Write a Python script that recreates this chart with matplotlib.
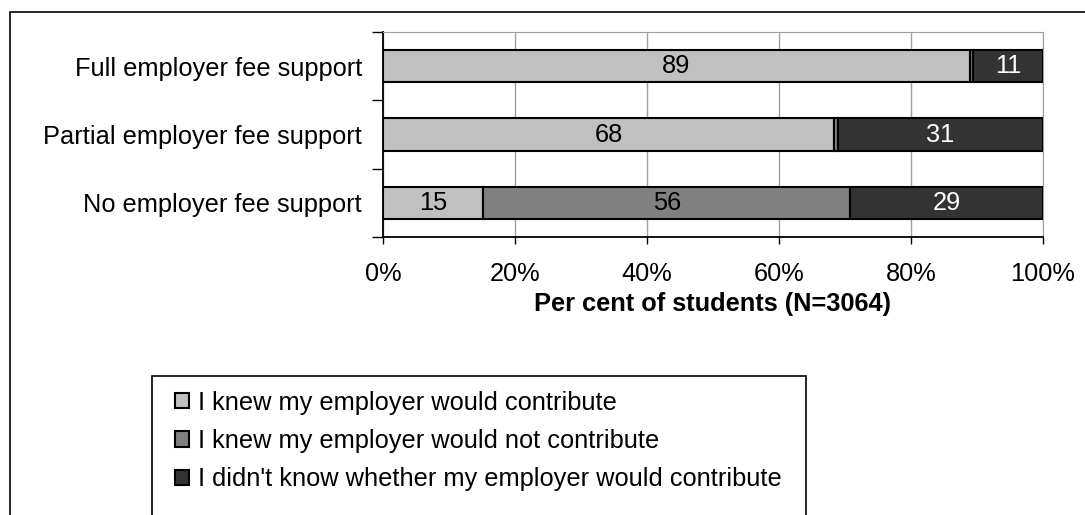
import matplotlib.pyplot as plt
from matplotlib.patches import Patch, Rectangle

plt.rcParams['font.family'] = ['Liberation Sans', 'DejaVu Sans']

categories = ['Full employer fee support', 'Partial employer fee support', 'No employer fee support']
knew_yes = [88.9, 68.4, 15.2]
knew_no = [0.5, 0.5, 55.6]
dont_know = [10.6, 31.1, 29.2]
series_names = ['I knew my employer would contribute',
                'I knew my employer would not contribute',
                "I didn't know whether my employer would contribute"]
colors = ['#C0C0C0', '#808080', '#333333']
text_colors = ['black', 'black', 'white']
xticks = [0, 20, 40, 60, 80, 100]

W, H = 1085, 515
fig = plt.figure(figsize=(W / 100, H / 100), dpi=100)
ax = fig.add_axes([383 / W, 1 - 237 / H, 660 / W, 205 / H])

fs = 18.3
ypos = list(range(len(categories)))
left = [0.0] * len(categories)
for vals, c, tc in zip([knew_yes, knew_no, dont_know], colors, text_colors):
    ax.barh(ypos, vals, left=left, height=0.47, color=c, edgecolor='black',
            linewidth=1.5, zorder=3)
    for y, v, l in zip(ypos, vals, left):
        if v >= 1:
            ax.text(l + v / 2, y, f'{v:.0f}', ha='center', va='center',
                    color=tc, fontsize=fs, zorder=4)
    left = [l + v for l, v in zip(left, vals)]

ax.set_xlim(0, 100)
ax.set_ylim(len(categories) - 0.5, -0.5)
ax.set_xticks(xticks)
ax.set_xticklabels([f'{t}%' for t in xticks], fontsize=fs)
ax.set_yticks(ypos)
ax.set_yticklabels(categories, fontsize=fs)
ax.tick_params(axis='y', length=0, pad=15)
ax.set_yticks([-0.5, 0.5, 1.5, 2.5], minor=True)
ax.tick_params(axis='y', which='minor', length=8, width=1, direction='out')
ax.tick_params(axis='x', length=5, width=1, direction='out', pad=13)
ax.xaxis.grid(True, color='#A0A0A0', linewidth=1, zorder=0)
ax.set_axisbelow(True)
for s in ['top', 'right']:
    ax.spines[s].set_color('#A0A0A0')
for s in ['left', 'bottom']:
    ax.spines[s].set_color('black')
    ax.spines[s].set_linewidth(1.3)
ax.set_xlabel('Per cent of students (N=3064)', fontsize=fs, fontweight='bold',
              labelpad=4)

# outer chart frame and legend box
fig.patches.append(Rectangle((10 / W, -0.1), 1.2, 1 - 12 / H + 0.1,
                             transform=fig.transFigure, fill=False,
                             edgecolor='black', linewidth=1.2))
fig.patches.append(Rectangle((152 / W, -0.1), (806 - 152) / W, 1 - 376 / H + 0.1,
                             transform=fig.transFigure, fill=False,
                             edgecolor='black', linewidth=1.2))
handles = [Patch(facecolor=c, edgecolor='black', linewidth=1.5) for c in colors]
fig.legend(handles, series_names, loc='upper left',
           bbox_to_anchor=(162 / W, 1 - 378 / H), frameon=False, fontsize=fs,
           handlelength=0.55, handleheight=0.55, handletextpad=0.35,
           labelspacing=0.56, borderpad=0)

fig.savefig('out.png', dpi=100)
